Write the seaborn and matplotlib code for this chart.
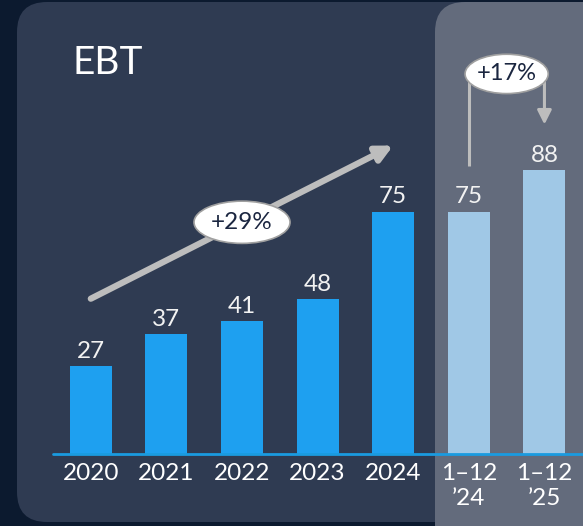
import matplotlib
matplotlib.use("Agg")
import matplotlib.pyplot as plt
import seaborn as sns
import pandas as pd
from matplotlib.patches import FancyBboxPatch, Ellipse

# Data
periods = ["2020", "2021", "2022", "2023", "2024", "1–12\n’24", "1–12\n’25"]
ebt = [27, 37, 41, 48, 75, 75, 88]
bar_colors = ["#1ea0f0"] * 5 + ["#a0c8e6"] * 2
cagr_label = "+29%"
ytd_label = "+17%"

BG = "#0c1a2f"
PANEL = "#2f3b52"
HILITE = "#636b7c"
GREY = "#bdbdbd"

sns.set_theme(style="white")
plt.rcParams["font.family"] = ["Lato", "DejaVu Sans"]

fig = plt.figure(figsize=(5.83, 5.26), dpi=100, facecolor=BG)

# background panels, in pixel coords
bg = fig.add_axes([0, 0, 1, 1])
bg.set_xlim(0, 583)
bg.set_ylim(526, 0)
bg.axis("off")
bg.add_patch(FancyBboxPatch((17, 2), 640, 520, boxstyle="round,pad=0,rounding_size=30",
                            facecolor=PANEL, edgecolor="none"))
bg.add_patch(FancyBboxPatch((435, 2), 240, 600, boxstyle="round,pad=0,rounding_size=30",
                            facecolor=HILITE, edgecolor="none"))
bg.text(72, 63, "EBT", color="white", fontsize=28, fontweight="normal", va="center", ha="left")

# chart axes
ax = fig.add_axes([53 / 583, (526 - 453.5) / 526, 530 / 583, 451.5 / 526])
ax.set_facecolor("none")
df = pd.DataFrame({"period": periods, "ebt": ebt})
sns.barplot(data=df, x="period", y="ebt", hue="period", palette=bar_colors,
            saturation=1, width=0.556, linewidth=0, legend=False, ax=ax)
ax.set_xlim(-0.5, 6.51)
ax.set_ylim(0, 140)
ax.axhline(0, color="#1a9be0", lw=2, clip_on=False)
for s in ax.spines.values():
    s.set_visible(False)
ax.set_yticks([])
ax.set_xlabel("")
ax.set_ylabel("")
ax.set_xticks(range(len(periods)))
ax.set_xticklabels(periods, color="white", fontsize=17.5, linespacing=1.2)
ax.tick_params(axis="x", length=0, pad=7)

for i, v in enumerate(ebt):
    ax.annotate(str(v), (i, v), xytext=(0, 3), textcoords="offset points",
                ha="center", va="bottom", color="#f2f2f2", fontsize=17.5)

# CAGR arrow
ax.annotate("", xy=(4, 95.5), xytext=(0, 48),
            arrowprops=dict(arrowstyle="-|>,head_length=0.8,head_width=0.4",
                            color=GREY, lw=4.5, shrinkA=0, shrinkB=0))
ax.add_patch(Ellipse((2, 71.7), 1.27, 13.1, facecolor="white", edgecolor="#a0a0a0",
                     lw=1.2, zorder=5))
ax.text(2, 71.7, cagr_label, ha="center", va="center", color="#1b2640", fontsize=17.5, zorder=6)

# YoY bracket
top = 117.7
ax.plot([5, 5], [ebt[5] + 14, top], color=GREY, lw=2.2, solid_capstyle="butt")
ax.annotate("", xy=(6, ebt[6] + 14), xytext=(6, top),
            arrowprops=dict(arrowstyle="-|>,head_length=0.7,head_width=0.35",
                            color=GREY, lw=2.2, shrinkA=0, shrinkB=0))
ax.add_patch(Ellipse((5.5, top), 1.1, 12.2, facecolor="white", edgecolor="#a0a0a0",
                     lw=1.2, zorder=5))
ax.text(5.5, top, ytd_label, ha="center", va="center", color="#1b2640", fontsize=17, zorder=6)

fig.savefig("out.png", dpi=100, facecolor=BG)
